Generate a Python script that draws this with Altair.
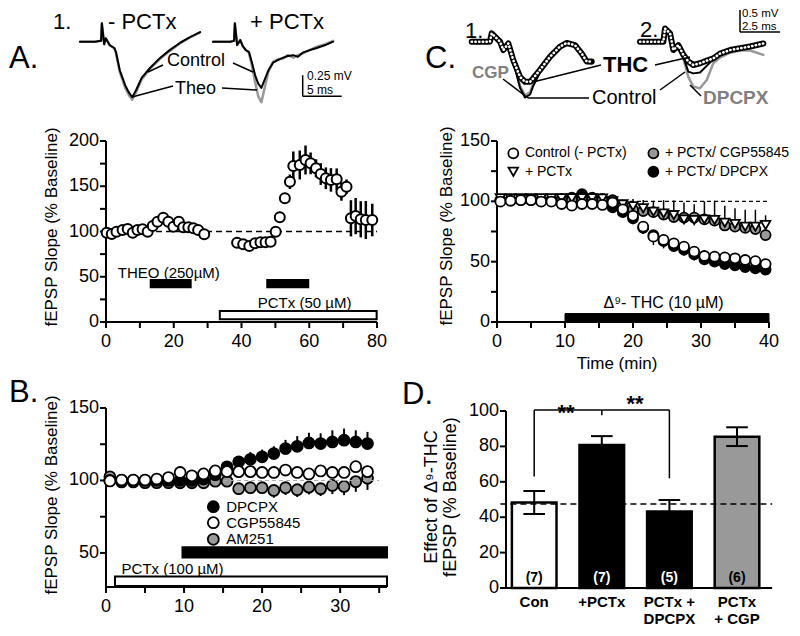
import altair as alt
import pandas as pd

FONT = "Liberation Sans, Arial, DejaVu Sans, sans-serif"
GRAY = "#999999"

# ---------------- Panel A: fEPSP slope time course ----------------
a_time = [0.2, 1.7, 3.1, 4.9, 6.4, 7.9, 9.3, 10.8, 12.3, 13.8, 15.2, 16.9, 18.4, 19.9, 21.5, 22.8, 24.3, 25.8, 27.2, 29.0,
          38.7, 40.5, 42.3, 44.0, 45.6, 47.1, 48.6, 50.1, 51.3, 52.8, 54.3, 55.3, 57.2, 58.9, 60.4, 62.0, 63.4, 64.9,
          66.4, 68.1, 69.5, 71.0, 72.3, 73.7, 75.2, 76.7, 78.6]
a_slope = [98.7, 97.2, 99.8, 101.7, 102.8, 98.7, 101.7, 102.4, 99.8, 106.0, 110.9, 115.3, 110.9, 105.3, 110.9, 104.6,
           104.6, 103.5, 101.7, 96.9,
           87.6, 85.9, 84.0, 87.0, 88.0, 88.0, 88.7, 99.8, 115.7, 136.7, 155.0, 172.4, 173.5, 179.0, 175.3, 169.8,
           163.5, 158.8, 157.0, 157.7, 144.0, 149.5, 114.6, 117.0, 113.5, 112.7, 112.7]
a_err = [3, 3, 3, 3, 3, 3, 3, 3, 3, 3, 4, 4, 4, 3, 4, 3, 3, 3, 3, 3,
         2, 2, 2, 2, 2, 2, 2, 3, 4, 6, 8, 16, 16, 16, 12, 10, 12, 12, 13, 12, 10, 8, 20, 20, 20, 21, 18]
a_bar_start = [13.2, 47.6, 33.6]
a_bar_end = [25.0, 59.7, 79.9]
a_bar_low = [38.3, 38.3, 3.0]
a_bar_high = [46.4, 46.4, 12.2]
a_bar_fill = ["black", "black", "white"]

# Panel A example traces (ms, mV)
a_tr1_t = [0, 1.9, 2.7, 2.8, 3.1, 3.3, 3.8, 4.4, 4.6, 5.1, 5.8, 6.3, 6.7, 7.2, 7.9, 9.0, 10.3, 11.5, 12.8, 14.1, 15.4]
a_tr1_ctrl = [0, 0, 0.01, 0.22, -0.03, 0.04, -0.04, -0.075, -0.12, -0.34, -0.52, -0.61, -0.66, -0.575, -0.43, -0.31,
              -0.19, -0.10, -0.015, 0.055, 0.115]
a_tr1_theo = [0, 0, 0.01, 0.22, -0.03, 0.04, -0.04, -0.08, -0.13, -0.36, -0.55, -0.64, -0.69, -0.6, -0.45, -0.32,
              -0.2, -0.11, -0.02, 0.05, 0.11]
a_tr2_t = [0, 2.2, 2.7, 2.8, 3.1, 3.5, 3.8, 4.2, 4.6, 5.0, 5.4, 5.8, 6.2, 6.5, 7.1, 7.7, 8.3, 9.0, 9.6, 10.3, 10.9,
           11.5, 12.4, 13.3, 14.4, 15.4]
a_tr2_ctrl = [0, 0, 0.01, 0.22, -0.04, 0.02, -0.05, -0.1, -0.12, -0.25, -0.4, -0.5, -0.55, -0.48, -0.34, -0.25, -0.22,
              -0.19, -0.17, -0.16, -0.18, -0.13, -0.1, -0.075, -0.04, 0]
a_tr2_theo = [0, 0, 0.01, 0.22, -0.04, 0.02, -0.05, -0.1, -0.13, -0.29, -0.48, -0.65, -0.72, -0.6, -0.36, -0.24,
              -0.21, -0.2, -0.16, -0.19, -0.16, -0.14, -0.1, -0.06, -0.03, 0.01]

# ---------------- Panel B ----------------
b_time = [0.5, 2, 3.5, 5, 6.5, 8, 9.5, 11, 12.5, 14, 15.5, 17, 18.5, 20, 21.5, 23, 24.5, 26, 27.5, 29, 30.5, 32, 33.5]
b_dpcpx = [100, 100, 100, 100, 100, 100, 100, 100, 101, 104, 109.4, 112.9, 114.6, 116.3, 118.6, 122, 123.6, 125.9,
           125.5, 126.6, 127.8, 126.6, 125.5]
b_dpcpx_err = [2, 2, 2, 2, 2, 2, 2, 2, 2, 2, 4, 4, 5, 5, 5, 6, 7, 7, 7, 8, 8, 8, 8]
b_cgp = [99.7, 100.3, 100.3, 100.3, 101, 102, 105.5, 103.2, 104.5, 106.6, 106.1, 106.1, 106.1, 105.5, 105.5, 107.2,
         105.5, 104.5, 106.6, 105.5, 105.5, 109.5, 106.1]
b_cgp_err = [2, 2, 2, 2, 2, 2, 3, 3, 3, 3, 3, 3, 3, 3, 3, 3, 3, 3, 3, 3, 3, 4, 4]
b_am251 = [102.5, 99, 99, 98.5, 98.5, 98.5, 98.4, 98.4, 98.4, 99.5, 99.5, 94.3, 95, 95, 93.1, 95, 93.6, 95.4, 94.3,
           96.6, 95.9, 99.2, 101.5]
b_am251_err = [2, 2, 2, 2, 2, 2, 2, 2, 2, 2, 2, 4, 4, 4, 5, 5, 5, 5, 5, 6, 6, 7, 8]
b_bar_start = [9.8, 1.15]
b_bar_end = [36.0, 36.0]
b_bar_low = [46.8, 27.2]
b_bar_high = [53.9, 33.7]
b_bar_fill = ["black", "white"]

# ---------------- Panel C ----------------
c_time = [0.5, 2, 3.5, 5, 6.5, 8, 9.5, 11, 12.5, 14, 15.5, 17, 18.5, 20, 21.5, 23, 24.5, 26, 27.5, 29, 30.5, 32,
          33.5, 35, 36.5, 38, 39.5]
c_control = [99.7, 100.5, 101, 101, 99.7, 99.7, 97.8, 96.4, 97.8, 97.8, 97, 99, 93.4, 88, 79, 70.7, 68, 65.2, 62.4,
             58.3, 54.7, 54.1, 53.6, 52.8, 51.4, 50.5, 48]
c_control_err = [2, 2, 2, 2, 2, 2, 2, 2, 2, 2, 2, 2, 4, 5, 6, 7, 7, 7, 6, 6, 5, 5, 5, 5, 5, 5, 5]
c_pctx = [102.5, 102.5, 102.5, 102.5, 102.5, 102.5, 102.5, 102.5, 102.5, 102.5, 102.4, 100, 97.5, 96, 94.2, 91.4,
          90, 88.6, 85, 84.5, 85, 84.5, 82.3, 81.2, 79, 79, 80.4]
c_pctx_err = [3, 3, 3, 3, 3, 3, 3, 3, 3, 3, 3, 3, 4, 6, 7, 9, 11, 12, 14, 13, 15, 16, 14, 13, 14, 14, 8]
c_cgp = [101, 101, 101, 101, 101, 101, 101, 101, 101, 101, 101, 101, 96, 93, 92, 91, 89, 87, 86.5, 86.5, 85, 84, 80,
         79, 78, 77, 72]
c_cgp_err = [2, 2, 2, 2, 2, 2, 2, 2, 2, 2, 2, 2, 3, 4, 4, 5, 5, 5, 5, 5, 5, 5, 5, 5, 5, 5, 5]
c_dpcpx = [101, 101, 101, 101, 101, 101, 102, 103, 106, 103, 102, 95, 91, 86, 78, 72, 67, 63, 60, 56, 52, 50, 48,
           47, 45.5, 44.5, 43.5]
c_dpcpx_err = [2, 2, 2, 2, 2, 2, 2, 2, 2, 2, 2, 3, 4, 5, 5, 5, 5, 5, 5, 5, 4, 4, 4, 4, 4, 4, 4]

# Panel C example traces (ms, mV)
c_tr1_t = [0, 1.14, 1.25, 1.77, 1.98, 2.29, 2.6, 3.02, 3.33, 3.65, 3.85, 4.27, 4.9, 5.52, 5.94, 6.46, 6.88, 7.19, 7.5]
c_tr1_thc = [0, 0, 0.19, 0, -0.19, -0.04, -0.42, -0.8, -0.91, -0.91, -0.83, -0.64, -0.34, -0.11, -0.03, -0.08,
             -0.27, -0.45, -0.45]
c_tr1_ctrl = [0, 0, 0.19, 0, -0.19, -0.04, -0.45, -1.05, -1.27, -1.2, -1.0, -0.7, -0.36, -0.12, -0.04, -0.09,
              -0.28, -0.42, -0.44]
c_tr1_cgp = [0, 0, 0.19, 0, -0.19, -0.04, -0.45, -1.0, -1.22, -1.15, -0.95, -0.68, -0.37, -0.14, -0.06, -0.12,
             -0.32, -0.48, -0.5]
c_tr2_t = [0, 1.46, 1.56, 1.88, 2.08, 2.4, 2.71, 3.02, 3.33, 3.75, 4.17, 4.58, 5.0, 5.63, 6.25, 6.88, 7.71]
c_tr2_thc = [0, 0, 0.3, 0.19, -0.19, -0.08, -0.3, -0.45, -0.53, -0.49, -0.43, -0.38, -0.27, -0.19, -0.15, -0.11, -0.04]
c_tr2_ctrl = [0, 0, 0.3, 0.19, -0.19, -0.08, -0.35, -0.68, -0.72, -0.7, -0.55, -0.4, -0.3, -0.2, -0.15, -0.1, -0.04]
c_tr2_dpcpx = [0, 0, 0.3, 0.19, -0.19, -0.08, -0.38, -0.8, -1.02, -1.06, -0.87, -0.49, -0.36, -0.25, -0.2, -0.2, -0.3]

# ---------------- Panel D ----------------
d_groups = ["Con", "+PCTx", "PCTx +\nDPCPX", "PCTx\n+ CGP"]
d_mean = [48.3, 80.8, 43.2, 85.5]
d_sem = [6.5, 5.0, 6.5, 5.3]
d_n = ["(7)", "(7)", "(5)", "(6)"]
d_fill = ["white", "black", "black", GRAY]
d_ncolor = ["black", "white", "white", "black"]
d_control_level = 47.5


# ---------------- helpers ----------------
def S(dom, rng):
    return alt.Scale(domain=dom, range=rng, nice=False, zero=False)


FA = (S([0, 80], [98, 369]), S([0, 200], [314, 133]))
FB = (S([0, 36], [98, 379]), S([26.5, 150], [579, 400]))
FC = (S([0, 40], [489, 761]), S([0, 150], [314, 133]))
FD = (S([-0.5, 3.5], [492.4, 762.8]), S([0, 100], [580, 403]))
TA1 = (S([0, 16], [72, 196.8]), S([-1, 0.5], [117.7, -8.3]))
TA2 = (S([0, 16], [205, 329.8]), S([-1, 0.5], [117.7, -8.3]))
TC1 = (S([0, 8], [463.7, 591.7]), S([-1.5, 0.5], [99.7, 11.7]))
TC2 = (S([0, 8], [632, 760]), S([-1.5, 0.5], [99.7, 11.7]))

ONE = pd.DataFrame({"a": [0]})


def X(fr, f="x"):
    return alt.X(f"{f}:Q", scale=fr[0], axis=None)


def Y(fr, f="y"):
    return alt.Y(f"{f}:Q", scale=fr[1], axis=None)


def series(fr, xs, ys, shape="circle", fill="white", size=100, sw=1.8):
    df = pd.DataFrame({"x": xs, "y": ys})
    return alt.Chart(df).mark_point(shape=shape, filled=True, fill=fill, stroke="black", strokeWidth=sw,
                                    size=size, opacity=1, fillOpacity=1).encode(x=X(fr), y=Y(fr))


def errbars(fr, xs, ys, es, mode="both", sw=2):
    lo = [y - e if mode in ("both", "down") else y for y, e in zip(ys, es)]
    hi = [y + e if mode in ("both", "up") else y for y, e in zip(ys, es)]
    df = pd.DataFrame({"x": xs, "lo": lo, "hi": hi})
    return alt.Chart(df).mark_rule(color="black", strokeWidth=sw).encode(x=X(fr), y=Y(fr, "lo"), y2="hi:Q")


def rects(fr, x0, x1, y0, y1, fills, sw=2):
    df = pd.DataFrame({"x": x0, "x2": x1, "y": y0, "y2": y1, "f": fills})
    return alt.Chart(df).mark_rect(stroke="black", strokeWidth=sw).encode(
        x=X(fr), x2="x2:Q", y=Y(fr), y2="y2:Q", color=alt.Color("f:N", scale=None))


def line(fr, xs, ys, color="black", sw=2, dash=None):
    df = pd.DataFrame({"x": xs, "y": ys, "o": list(range(len(xs)))})
    kw = dict(color=color, strokeWidth=sw, strokeJoin="round", strokeCap="round")
    if dash:
        kw["strokeDash"] = dash
    return alt.Chart(df).mark_line(**kw).encode(x=X(fr), y=Y(fr), order="o:Q")


def hrule(fr, x0, x1, yv, sw=1.5, dash=None, color="black"):
    df = pd.DataFrame({"x": [x0], "x2": [x1], "y": [yv]})
    kw = dict(color=color, strokeWidth=sw)
    if dash:
        kw["strokeDash"] = dash
    return alt.Chart(df).mark_rule(**kw).encode(x=X(fr), x2="x2:Q", y=Y(fr))


def segs(fr, x0, y0, x1, y1, sw=1.5):
    df = pd.DataFrame({"x": x0, "y": y0, "x2": x1, "y2": y1})
    return alt.Chart(df).mark_rule(color="black", strokeWidth=sw).encode(x=X(fr), y=Y(fr), x2="x2:Q", y2="y2:Q")


def dtext(fr, xs, ys, labels, size, weight="normal", align="left", color="black"):
    df = pd.DataFrame({"x": xs, "y": ys, "t": labels})
    return alt.Chart(df).mark_text(font=FONT, fontSize=size, fontWeight=weight, align=align, baseline="middle",
                                   color=color).encode(x=X(fr), y=Y(fr), text="t:N")


def ptext(x, y, s, size, weight="normal", align="left", color="black", angle=0):
    return alt.Chart(ONE).mark_text(text=s, font=FONT, fontSize=size, fontWeight=weight, align=align,
                                    baseline="middle", color=color, angle=angle).encode(
        x=alt.value(x - 8), y=alt.value(y - 8))


def prule(x1, y1, x2, y2, sw=1.5):
    return alt.Chart(ONE).mark_rule(color="black", strokeWidth=sw).encode(
        x=alt.value(x1 - 8), y=alt.value(y1 - 8), x2=alt.value(x2 - 8), y2=alt.value(y2 - 8))


def axes(fr, xline, yline, xticks, xlabels, yticks, ylabels, tick=6, fs=18):
    x_at, y_at = xline[0], yline[0]
    out = [hrule(fr, xline[0], xline[1], y_at, sw=2)]
    df = pd.DataFrame({"x": [x_at], "y": [yline[0]], "y2": [yline[1]]})
    out.append(alt.Chart(df).mark_rule(color="black", strokeWidth=2).encode(x=X(fr), y=Y(fr), y2="y2:Q"))
    if xticks:
        df = pd.DataFrame({"x": xticks, "y": [y_at] * len(xticks)})
        out.append(alt.Chart(df).mark_rule(color="black", strokeWidth=2, y2Offset=tick).encode(
            x=X(fr), y=Y(fr), y2="y:Q"))
    if xlabels:
        df = pd.DataFrame({"x": xlabels, "y": [y_at] * len(xlabels), "t": [str(v) for v in xlabels]})
        out.append(alt.Chart(df).mark_text(font=FONT, fontSize=fs, align="center", baseline="middle", dy=20,
                                           color="black").encode(x=X(fr), y=Y(fr), text="t:N"))
    df = pd.DataFrame({"x": [x_at] * len(yticks), "y": yticks})
    out.append(alt.Chart(df).mark_rule(color="black", strokeWidth=2, x2Offset=-tick).encode(
        x=X(fr), y=Y(fr), x2="x:Q"))
    df = pd.DataFrame({"x": [x_at] * len(ylabels), "y": ylabels, "t": [str(v) for v in ylabels]})
    out.append(alt.Chart(df).mark_text(font=FONT, fontSize=fs, align="right", baseline="middle", dx=-7,
                                       color="black").encode(x=X(fr), y=Y(fr), text="t:N"))
    return out


L = []

# ======== Panel A ========
L.append(ptext(9, 59, "A.", 31))
L.append(ptext(53, 22, "1.", 22))
L.append(ptext(108, 22, "- PCTx", 22))
L.append(ptext(250, 22, "+ PCTx", 22))
L.append(line(TA1, a_tr1_t, a_tr1_theo, GRAY, 2.5))
L.append(line(TA1, a_tr1_t, a_tr1_ctrl, "black", 2))
L.append(line(TA2, a_tr2_t, a_tr2_theo, GRAY, 2.5))
L.append(line(TA2, a_tr2_t, a_tr2_ctrl, "black", 2))
L.append(ptext(167, 61, "Control", 18))
L.append(ptext(175, 89, "Theo", 18))
L.append(prule(163, 65, 148, 72))
L.append(prule(173, 86, 132, 97))
L.append(prule(233, 63, 253, 72))
L.append(prule(222, 88, 257, 90))
L.append(segs(TA2, [11.5, 11.5], [-0.4, -0.65], [11.5, 16.5], [-0.65, -0.65], sw=1.5))
L.append(ptext(307, 76, "0.25 mV", 12))
L.append(ptext(307, 90, "5 ms", 12))

L += axes(FA, (0, 80), (0, 200), list(range(0, 81, 10)), [0, 20, 40, 60, 80],
          list(range(0, 201, 25)), [0, 50, 100, 150, 200])
L.append(ptext(52, 227, "fEPSP Slope (% Baseline)", 17, angle=270, align="center"))
L.append(hrule(FA, 0, 80, 100, sw=1.5, dash=[6, 4]))
L.append(rects(FA, a_bar_start, a_bar_end, a_bar_low, a_bar_high, a_bar_fill))
L.append(dtext(FA, [3.5, 44.8], [54, 20.6], ["THEO (250µM)", "PCTx (50 µM)"], 15))
L.append(errbars(FA, a_time, a_slope, a_err, sw=2.5))
L.append(series(FA, a_time, a_slope, size=100, sw=2))

# ======== Panel B ========
L.append(ptext(9, 393, "B.", 31))
L += axes(FB, (0, 36), (26.5, 150), list(range(0, 36, 5)), [0, 10, 20, 30],
          [50, 75, 100, 125, 150], [50, 100, 150])
L.append(ptext(52, 495, "fEPSP Slope (% Baseline)", 17, angle=270, align="center"))
L.append(rects(FB, b_bar_start, b_bar_end, b_bar_low, b_bar_high, b_bar_fill))
L.append(dtext(FB, [2.0], [38.8], ["PCTx (100 µM)"], 15))
L.append(errbars(FB, b_time, b_am251, b_am251_err, mode="down"))
L.append(errbars(FB, b_time, b_dpcpx, b_dpcpx_err, mode="up"))
L.append(errbars(FB, b_time, b_cgp, b_cgp_err, mode="up"))
L.append(series(FB, b_time, b_am251, fill=GRAY, size=120))
L.append(series(FB, b_time, b_dpcpx, fill="black", size=120))
L.append(series(FB, b_time, b_cgp, fill="white", size=120))
L.append(hrule(FB, 15, 35, 100, sw=1, dash=[4, 3], color="#aaaaaa"))
L.append(series(FB, [13.75], [81.9], fill="black", size=120))
L.append(series(FB, [13.75], [70.9], fill="white", size=120))
L.append(series(FB, [13.75], [59.4], fill=GRAY, size=120))
L.append(dtext(FB, [15.4, 15.4, 15.4], [81.9, 70.9, 59.4], ["DPCPX", "CGP55845", "AM251"], 15))

# ======== Panel C ========
L.append(ptext(425, 59, "C.", 31))
L.append(ptext(465, 31, "1.", 22))
L.append(ptext(640, 30, "2.", 22))
L.append(line(TC1, c_tr1_t, c_tr1_cgp, GRAY, 2.5))
L.append(line(TC1, c_tr1_t, c_tr1_ctrl, "black", 2))
L.append(line(TC1, c_tr1_t, c_tr1_thc, "black", 6))
L.append(line(TC1, c_tr1_t, c_tr1_thc, "white", 2.6, dash=[0.3, 3.4]))
L.append(line(TC2, c_tr2_t, c_tr2_dpcpx, GRAY, 2.5))
L.append(line(TC2, c_tr2_t, c_tr2_ctrl, "black", 2))
L.append(line(TC2, c_tr2_t, c_tr2_thc, "black", 6))
L.append(line(TC2, c_tr2_t, c_tr2_thc, "white", 2.6, dash=[0.3, 3.4]))
L.append(ptext(472, 73, "CGP", 17, weight="bold", color="#808080"))
L.append(ptext(603, 65, "THC", 22, weight="bold"))
L.append(ptext(592, 98, "Control", 20))
L.append(ptext(703, 98, "DPCPX", 19, weight="bold", color="#808080"))
L.append(prule(503, 79, 528, 98))
L.append(prule(528, 98, 589, 98))
L.append(prule(660, 90, 685, 72))
L.append(prule(601, 65, 533, 82))
L.append(prule(655, 65, 690, 57))
L.append(prule(701, 96, 690, 85))
L.append(segs(TC2, [6.25, 6.25], [0.72, 0.22], [6.25, 8.75], [0.22, 0.22], sw=1.5))
L.append(ptext(742, 14, "0.5 mV", 11.5))
L.append(ptext(742, 27, "2.5 ms", 11.5))

L += axes(FC, (0, 40), (0, 150), list(range(0, 41, 5)), [0, 10, 20, 30, 40],
          list(range(0, 151, 25)), [0, 50, 100, 150])
L.append(ptext(447, 226, "fEPSP Slope (% Baseline)", 17, angle=270, align="center"))
L.append(ptext(617, 364, "Time (min)", 17, align="center"))
L.append(hrule(FC, 0, 40, 100, sw=1.2, dash=[4, 3]))
L.append(rects(FC, [10.0], [40.0], [0.0], [7.0], ["black"], sw=1))
L.append(dtext(FC, [24.5], [15.5], ["Δ⁹- THC (10 µM)"], 16, align="center"))
L.append(errbars(FC, c_time, c_dpcpx, c_dpcpx_err, mode="down", sw=1.5))
L.append(errbars(FC, c_time, c_cgp, c_cgp_err, mode="up", sw=1.5))
L.append(errbars(FC, c_time, c_pctx, c_pctx_err, mode="up", sw=1.5))
L.append(errbars(FC, c_time, c_control, c_control_err, mode="down", sw=1.5))
L.append(series(FC, c_time, c_dpcpx, fill="black", size=100))
L.append(series(FC, c_time, c_cgp, fill=GRAY, size=100))
L.append(series(FC, c_time, c_pctx, shape="triangle-down", fill="white", size=90))
L.append(series(FC, c_time, c_control, fill="white", size=100))
L.append(series(FC, [2.4], [139.8], fill="white", size=100))
L.append(series(FC, [2.4], [124.5], shape="triangle-down", fill="white", size=90))
L.append(series(FC, [23.0], [139.8], fill=GRAY, size=100))
L.append(series(FC, [23.0], [124.5], fill="black", size=100))
L.append(dtext(FC, [4.1, 4.1, 24.7, 24.7], [139.8, 124.5, 139.8, 124.5],
               ["Control (- PCTx)", "+ PCTx", "+ PCTx/ CGP55845", "+ PCTx/ DPCPX"], 14))

# ======== Panel D ========
L.append(ptext(402, 395, "D.", 31))
d_pos = list(range(len(d_groups)))
d_half = 0.33
L.append(rects(FD, [p - d_half for p in d_pos], [p + d_half for p in d_pos], [0] * 4, d_mean, d_fill, sw=2.5))
L.append(errbars(FD, d_pos, d_mean, d_sem, sw=2))
cap = 0.16
d_hi = [m + e for m, e in zip(d_mean, d_sem)]
d_lo = [m - e for m, e in zip(d_mean, d_sem)]
L.append(segs(FD, [p - cap for p in d_pos] * 2, d_hi + d_lo, [p + cap for p in d_pos] * 2, d_hi + d_lo, sw=2))
L.append(hrule(FD, -0.5, 3.52, d_control_level, sw=1.5, dash=[6, 4]))
df_n = pd.DataFrame({"x": d_pos, "y": [5.5] * 4, "t": d_n, "c": d_ncolor})
L.append(alt.Chart(df_n).mark_text(font=FONT, fontSize=14, fontWeight="bold", baseline="middle").encode(
    x=X(FD), y=Y(FD), text="t:N", color=alt.Color("c:N", scale=None)))
df_g = pd.DataFrame({"x": d_pos, "t": d_groups})
L.append(alt.Chart(df_g).mark_text(font=FONT, fontSize=15, fontWeight="bold", baseline="top", lineBreak="\n",
                                   lineHeight=17, color="black").encode(
    x=X(FD), y=alt.value(595 - 8), text="t:N"))
L.append(segs(FD, [0, 0, 1, 1, 2], [63, 100.6, 100.6, 100.6, 100.6], [0, 1, 1, 2, 2], [100.6, 100.6, 97.6, 100.6, 62],
              sw=1.5))
L.append(ptext(566, 413, "**", 22, weight="bold", align="center"))
L.append(ptext(635, 404, "**", 22, weight="bold", align="center"))
L += axes(FD, (-0.417, 3.52), (0, 100), None, None, list(range(0, 101, 20)), list(range(0, 101, 20)))
L.append(ptext(432, 497, "Effect of Δ⁹-THC", 18, angle=270, align="center"))
L.append(ptext(451, 497, "fEPSP (% Baseline)", 18, angle=270, align="center"))

chart = alt.layer(*L).resolve_scale(x="independent", y="independent").properties(
    width=784, height=620, padding=0, autosize=alt.AutoSizeParams(type="none")
).configure_view(stroke=None)

chart.save("out.html", embed_options={"renderer": "svg", "actions": False})
